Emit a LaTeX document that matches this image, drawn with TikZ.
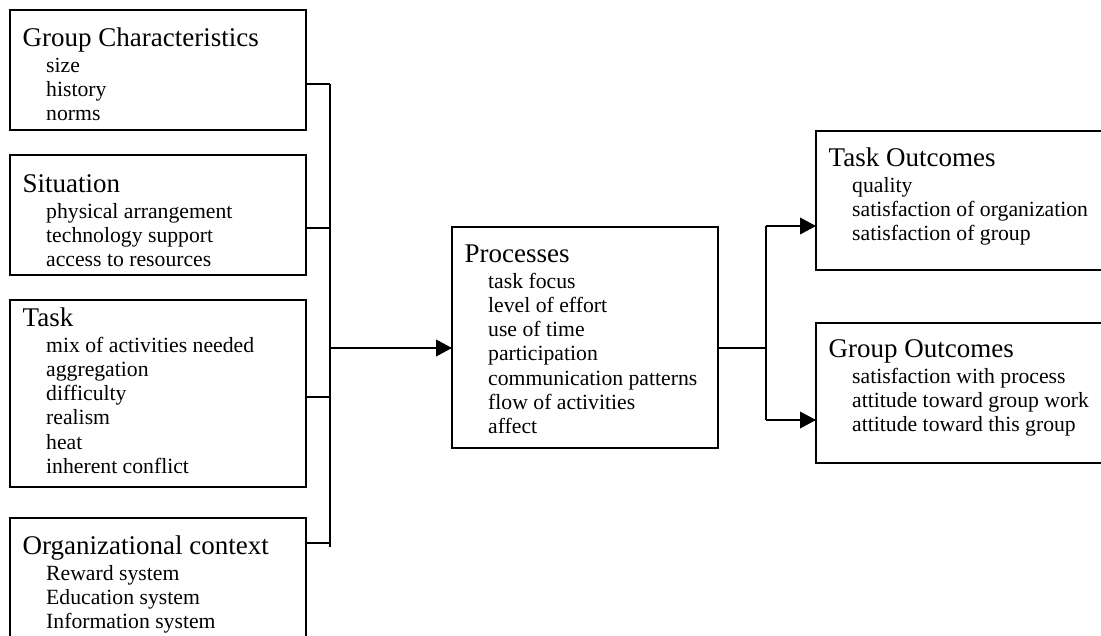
\documentclass[tikz,border=0pt]{standalone}
\usepackage{fontspec}
\setmainfont{Liberation Serif}
\usetikzlibrary{arrows.meta,calc}
\newcommand\fillbox[4]{%
  \node[ttl] (#1-t) at ($(#1.north west)+(12.5,#3)$) {#2};
  \foreach \t [count=\i] in {#4}
    \node[itm] (#1-\i) at ($(#1.north west)+(36,{#3+1.7+24.3*\i})$) {\t};
}
\begin{document}
\begin{tikzpicture}[x=1pt,y=-1pt,
  box/.style={draw=black, line width=2.7pt, rectangle, inner sep=0pt, outer sep=0pt, anchor=north west},
  ttl/.style={anchor=base west, inner sep=0pt, font=\fontsize{27}{30}\selectfont},
  itm/.style={anchor=base west, inner sep=0pt, font=\fontsize{21.7}{24.3}\selectfont},
  conn/.style={draw=black, line width=2.2pt},
  arr/.style={conn, -{Triangle[length=16pt,width=16.5pt]}}]
\useasboundingbox (0,0) rectangle (1101,635);
\clip (0,0) rectangle (1101,635);
\fill[white] (0,0) rectangle (1101,635);

% boxes
\node[box, minimum width=296, minimum height=120] (gc) at (10,10) {};
\node[box, minimum width=296, minimum height=120] (si) at (10,155) {};
\node[box, minimum width=296, minimum height=187] (ta) at (10,300) {};
\node[box, minimum width=296, minimum height=130] (oc) at (10,518) {};
\node[box, minimum width=266, minimum height=221] (pr) at (452,227) {};
\node[box, minimum width=300, minimum height=139] (to) at (816,131) {};
\node[box, minimum width=300, minimum height=140] (go) at (816,323) {};

% texts
\fillbox{gc}{Group Characteristics}{36}{size,history,norms}
\fillbox{si}{Situation}{37}{physical arrangement,technology support,access to resources}
\fillbox{ta}{Task}{26}{mix of activities needed,aggregation,difficulty,realism,heat,inherent conflict}
\fillbox{oc}{Organizational context}{36}{Reward system,Education system,Information system}
\fillbox{pr}{Processes}{35}{task focus,level of effort,use of time,participation,communication patterns,flow of activities,affect}
\fillbox{to}{Task Outcomes}{35}{quality,satisfaction of organization,satisfaction of group}
\fillbox{go}{Group Outcomes}{34}{satisfaction with process,attitude toward group work,attitude toward this group}

% left connectors
\coordinate (jt) at (330,84);
\coordinate (js) at (330,228);
\coordinate (jk) at (330,397);
\coordinate (jo) at (330,543);
\coordinate (jb) at (330,547);
\coordinate (jp) at (330,348);
\draw[conn] (gc.east |- jt) -- (jt);
\draw[conn] (si.east |- js) -- (js);
\draw[conn] (ta.east |- jk) -- (jk);
\draw[conn] (oc.east |- jo) -- (jo);
\draw[conn, line width=2.5pt] (jt) -- (jb);
\draw[arr] (jp) -- (pr.west |- jp);

% right connectors
\coordinate (rs) at (766,348);
\coordinate (rt) at (766,226);
\coordinate (rb) at (766,420);
\draw[conn] (pr.east |- rs) -- (rs);
\draw[conn, line width=2.5pt] (rt) -- (rb);
\draw[arr] (rt) -- (to.west |- rt);
\draw[arr] (rb) -- (go.west |- rb);
\end{tikzpicture}
\end{document}
